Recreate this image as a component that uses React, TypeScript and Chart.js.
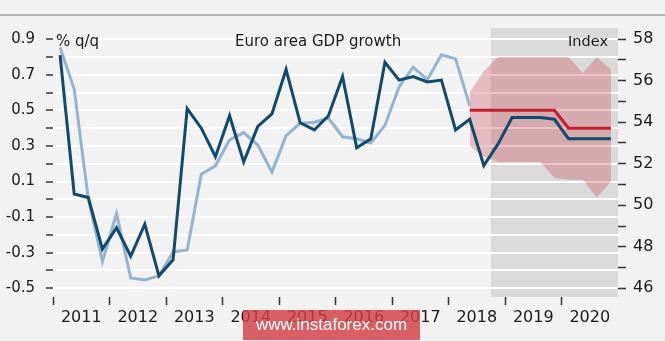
import React, { useEffect, useRef } from "react";
import { Chart, registerables } from "chart.js";

Chart.register(...registerables);

// ---- data ----
const years = [2011, 2012, 2013, 2014, 2015, 2016, 2017, 2018, 2019, 2020];
const quarterLabels = years.flatMap((y) => ["Q1", "Q2", "Q3", "Q4"].map((q) => `${y} ${q}`));

// Euro area GDP growth, % q/q (left axis), 2011 Q1 .. 2020 Q4 (incl. projection)
const gdpGrowth = [
  0.81, 0.03, 0.01, -0.28, -0.16, -0.32, -0.14, -0.43, -0.34, 0.51,
  0.4, 0.24, 0.47, 0.21, 0.41, 0.48, 0.73, 0.43, 0.39, 0.47,
  0.69, 0.29, 0.34, 0.77, 0.67, 0.69, 0.66, 0.67, 0.39, 0.45,
  0.19, 0.31, 0.46, 0.46, 0.46, 0.45, 0.34, 0.34, 0.34, 0.34,
];

// Composite index (right axis), 2011 Q1 .. 2018 Q2
const compositeIndex = [
  57.6, 55.6, 50.3, 47.3, 49.6, 46.5, 46.4, 46.6, 47.75, 47.85,
  51.5, 51.9, 53.15, 53.5, 52.9, 51.6, 53.35, 53.95, 54.0, 54.2,
  53.3, 53.2, 53.0, 53.85, 55.7, 56.65, 56.05, 57.25, 57.05, 54.8,
];

// Projection (left axis) and its range, 2018 Q2 .. 2020 Q4
const projectionStart = 29;
const projection = [0.5, 0.5, 0.5, 0.5, 0.5, 0.5, 0.5, 0.4, 0.4, 0.4, 0.4];
const rangeUpper = [0.6, 0.72, 0.8, 0.8, 0.8, 0.8, 0.8, 0.8, 0.71, 0.8, 0.73];
const rangeLower = [0.3, 0.24, 0.21, 0.21, 0.21, 0.21, 0.12, 0.11, 0.11, 0.01, 0.1];

const forecastShadeStart = 2018.75;
const leftTicks = [-0.5, -0.4, -0.3, -0.2, -0.1, 0, 0.1, 0.2, 0.3, 0.4, 0.5, 0.6, 0.7, 0.8, 0.9];
const rightTicks = [46, 47, 48, 49, 50, 51, 52, 53, 54, 55, 56, 57, 58];

const quarterX = (label: string) => {
  const [y, q] = label.split(" ");
  return Number(y) + (Number(q.slice(1)) - 0.5) / 4;
};

const series = (vals: number[], start = 0) =>
  vals.map((v, i) => ({ x: quarterX(quarterLabels[start + i]), y: v }));

export default function App() {
  const ref = useRef<HTMLCanvasElement | null>(null);

  useEffect(() => {
    if (!ref.current) return;

    const decor = {
      id: "decor",
      beforeDraw(chart: any) {
        const { ctx, chartArea, scales } = chart;
        ctx.save();
        ctx.fillStyle = "#f2f2f2";
        ctx.fillRect(0, 0, chart.width, chart.height);
        ctx.strokeStyle = "#b4b4b4";
        ctx.lineWidth = 2;
        ctx.beginPath();
        ctx.moveTo(0, 15);
        ctx.lineTo(chart.width, 15);
        ctx.stroke();
        const xs = scales.x.getPixelForValue(forecastShadeStart);
        ctx.fillStyle = "#dadada";
        ctx.fillRect(xs, chartArea.top, chartArea.right - xs, chartArea.bottom - chartArea.top);
        ctx.restore();
      },
      afterDraw(chart: any) {
        const { ctx } = chart;
        ctx.save();
        ctx.fillStyle = "#1a1a1a";
        ctx.textBaseline = "alphabetic";
        ctx.font = "15px 'DejaVu Sans'";
        ctx.textAlign = "left";
        ctx.fillText("% q/q", 56, 45.5);
        ctx.fillText("Euro area GDP growth", 235, 45.5);
        ctx.font = "14.5px 'DejaVu Sans'";
        ctx.textAlign = "right";
        ctx.fillText("Index", 608, 45.5);
        ctx.restore();
      },
    };

    const chart = new Chart(ref.current, {
      type: "line",
      data: {
        datasets: [
          {
            label: "GDP growth",
            data: series(gdpGrowth),
            yAxisID: "y",
            borderColor: "#0f4a6f",
            borderWidth: 3,
            pointRadius: 0,
            fill: false,
            order: 1,
          },
          {
            label: "Index",
            data: series(compositeIndex),
            yAxisID: "y1",
            borderColor: "#93b4d2",
            borderWidth: 3,
            pointRadius: 0,
            fill: false,
            order: 3,
          },
          {
            label: "Projection",
            data: series(projection, projectionStart),
            yAxisID: "y",
            borderColor: "#c41f2d",
            borderWidth: 3,
            pointRadius: 0,
            fill: false,
            order: 2,
          },
          {
            label: "Range upper",
            data: series(rangeUpper, projectionStart),
            yAxisID: "y",
            borderWidth: 0,
            borderColor: "rgba(0,0,0,0)",
            backgroundColor: "rgba(200,60,72,0.3)",
            pointRadius: 0,
            fill: "+1",
            order: 10,
          },
          {
            label: "Range lower",
            data: series(rangeLower, projectionStart),
            yAxisID: "y",
            borderWidth: 0,
            borderColor: "rgba(0,0,0,0)",
            pointRadius: 0,
            fill: false,
            order: 11,
          },
        ],
      },
      options: {
        animation: false,
        responsive: false,
        events: [],
        layout: { padding: { top: 28, left: 0, right: 0, bottom: 0 } },
        plugins: { legend: { display: false }, tooltip: { enabled: false }, title: { display: false } },
        scales: {
          x: {
            type: "linear",
            position: "bottom",
            min: 2011,
            max: 2021,
            afterBuildTicks: (s: any) => {
              const t: any[] = [];
              years.forEach((y) => {
                t.push({ value: y });
                t.push({ value: y + 0.5 });
              });
              s.ticks = t;
            },
            afterFit: (s: any) => {
              s.height = 44;
            },
            border: { display: false },
            grid: {
              drawOnChartArea: false,
              drawTicks: true,
              tickLength: 8,
              tickWidth: 1.5,
              tickColor: (c: any) =>
                c.tick && Math.abs(c.tick.value % 1) < 1e-6 ? "#333333" : "rgba(0,0,0,0)",
            },
            ticks: {
              autoSkip: false,
              maxRotation: 0,
              padding: 3,
              color: "#1a1a1a",
              font: { family: "'DejaVu Sans'", size: 16 },
              callback: (v: any) => (Math.abs((v % 1) - 0.5) < 1e-6 ? String(Math.floor(v)) : ""),
            },
          },
          y: {
            type: "linear",
            position: "left",
            min: -0.549,
            max: 0.963,
            afterBuildTicks: (s: any) => {
              s.ticks = leftTicks.map((v) => ({ value: v }));
            },
            afterFit: (s: any) => {
              s.width = 53;
            },
            border: { display: false },
            grid: {
              color: "#ffffff",
              lineWidth: 2,
              drawTicks: true,
              tickLength: 7,
              tickWidth: 1.5,
              tickColor: "#333333",
            },
            ticks: {
              autoSkip: false,
              padding: 11,
              color: "#1a1a1a",
              font: { family: "'DejaVu Sans'", size: 15 },
              callback: (v: any) => {
                const n = Math.round(Number(v) * 10);
                return Math.abs(n) % 2 === 1 ? (n / 10).toFixed(1) : "";
              },
            },
          },
          y1: {
            type: "linear",
            position: "right",
            min: 45.58,
            max: 58.54,
            afterBuildTicks: (s: any) => {
              s.ticks = rightTicks.map((v) => ({ value: v }));
            },
            afterFit: (s: any) => {
              s.width = 47;
            },
            border: { display: false },
            grid: {
              drawOnChartArea: false,
              drawTicks: true,
              tickLength: 8,
              tickWidth: 1.5,
              tickColor: "#333333",
            },
            ticks: {
              autoSkip: false,
              padding: 7,
              color: "#1a1a1a",
              font: { family: "'DejaVu Sans'", size: 16 },
              callback: (v: any) => (Number(v) % 2 === 0 ? String(v) : ""),
            },
          },
        },
      },
      plugins: [decor],
    } as any);

    return () => chart.destroy();
  }, []);

  return (
    <div style={{ position: "fixed", left: 0, top: 0, width: 665, height: 341, overflow: "hidden" }}>
      <canvas ref={ref} width={665} height={341} style={{ display: "block" }} />
      <div
        style={{
          position: "absolute",
          left: 243,
          top: 310,
          width: 177,
          height: 30,
          background: "rgba(212,62,70,0.82)",
          color: "#ffffff",
          fontFamily: "'Liberation Sans', Arial, sans-serif",
          fontSize: 17,
          lineHeight: "30px",
          textAlign: "center",
        }}
      >
        www.instaforex.com
      </div>
    </div>
  );
}
